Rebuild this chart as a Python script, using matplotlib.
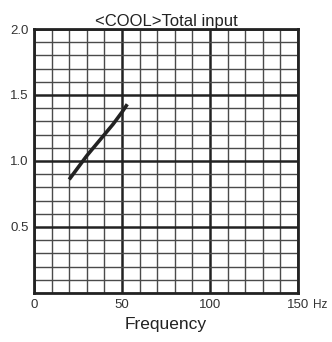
import numpy as np
import matplotlib.pyplot as plt
from matplotlib.ticker import MultipleLocator

plt.rcParams['font.family'] = ['Liberation Sans', 'DejaVu Sans']

# datos
frecuencia = [20, 25, 30, 35, 40, 45, 50, 53]
entrada_total = [0.86, 0.95, 1.04, 1.12, 1.20, 1.28, 1.37, 1.43]

x_ticks = [0, 50, 100, 150]
x_labels = ['0', '50', '100', '150']
y_ticks = [0.5, 1.0, 1.5, 2.0]
y_labels = ['0.5', '1.0', '1.5', '2.0']

fig = plt.figure(figsize=(3.32, 3.42), dpi=100)
ax = fig.add_axes([0.1024, 0.1433, 0.7952, 0.7719])

ax.set_xlim(0, 150)
ax.set_ylim(0, 2.0)

ax.xaxis.set_minor_locator(MultipleLocator(10))
ax.yaxis.set_minor_locator(MultipleLocator(0.1))
ax.set_xticks(x_ticks)
ax.set_xticklabels(x_labels)
ax.set_yticks(y_ticks)
ax.set_yticklabels(y_labels)

ax.grid(which='minor', color='#4a4a4a', linewidth=1.0)
ax.grid(which='major', color='#222222', linewidth=1.8)
ax.set_axisbelow(True)

ax.tick_params(which='both', length=0, labelsize=9.5, labelcolor='#333333', pad=4)

# unidad junto al ultimo valor del eje x
ax.annotate('Hz', xy=(150, 0), xycoords='data', xytext=(11, -4),
            textcoords='offset points', ha='left', va='top',
            fontsize=8.5, color='#333333', annotation_clip=False)

for s in ax.spines.values():
    s.set_linewidth(2)
    s.set_color('#222222')

ax.plot(frecuencia, entrada_total, color='#222222', linewidth=2.6, solid_capstyle='butt')

ax.set_title('<COOL>Total input', fontsize=12, color='#222222', pad=2)
ax.set_xlabel('Frequency', fontsize=12.5, color='#222222', labelpad=5)

fig.savefig('out.png', dpi=100)
